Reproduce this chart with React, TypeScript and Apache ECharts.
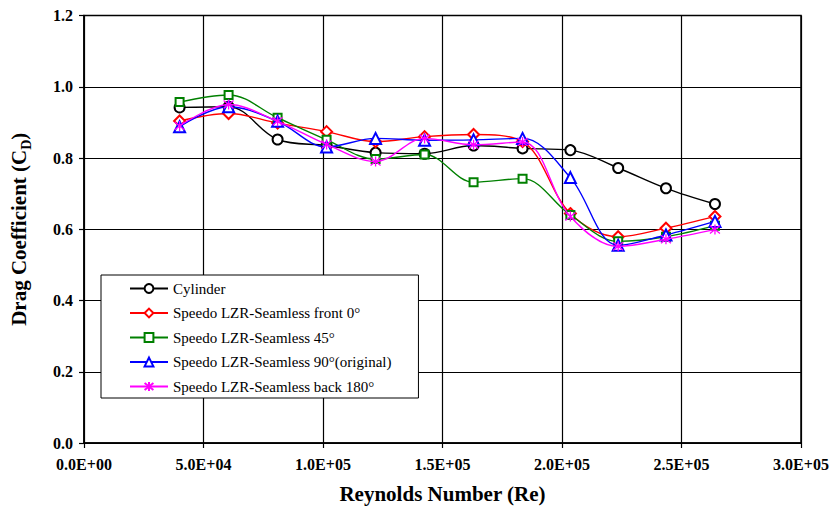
import React, { useEffect, useRef } from 'react';
import * as echarts from 'echarts';

const reynolds = [40000, 60500, 81000, 101500, 122000, 142500, 163000, 183500, 203500, 223500, 243500, 264000];
const cylinder = [0.942, 0.944, 0.852, 0.835, 0.815, 0.812, 0.835, 0.827, 0.822, 0.772, 0.715, 0.671];
const front0 = [0.904, 0.925, 0.898, 0.874, 0.846, 0.86, 0.866, 0.846, 0.644, 0.579, 0.603, 0.636];
const deg45 = [0.957, 0.977, 0.913, 0.851, 0.797, 0.81, 0.732, 0.742, 0.64, 0.566, 0.579, 0.61];
const deg90 = [0.888, 0.944, 0.903, 0.831, 0.855, 0.85, 0.851, 0.855, 0.745, 0.555, 0.584, 0.622];
const back180 = [0.89, 0.95, 0.903, 0.838, 0.79, 0.855, 0.837, 0.845, 0.636, 0.552, 0.572, 0.599];

const seriesNames = [
  'Cylinder',
  'Speedo LZR-Seamless front 0°',
  'Speedo LZR-Seamless 45°',
  'Speedo LZR-Seamless 90°(original)',
  'Speedo LZR-Seamless back 180°',
];
const seriesColors = ['#000000', '#ff0000', '#008000', '#0000ff', '#ff00ff'];
const seriesSymbols = [
  'emptyCircle',
  'emptyDiamond',
  'emptyRect',
  'emptyTriangle',
  'path://M5 0L5 10M1 1L9 9M9 1L1 9',
];
const symbolSizes = [10, 11, 8, 11, 10];
const seriesValues = [cylinder, front0, deg45, deg90, back180];

const FONT = 'Liberation Serif';

function fmtSci(v: number): string {
  if (v === 0) return '0.0E+00';
  const e = Math.floor(Math.log10(Math.abs(v)) + 1e-9);
  const m = v / Math.pow(10, e);
  return m.toFixed(1) + 'E+' + String(e).padStart(2, '0');
}

export default function App() {
  const ref = useRef<HTMLDivElement>(null);
  useEffect(() => {
    if (!ref.current) return;
    const chart = echarts.init(ref.current, undefined, { renderer: 'svg' });
    chart.setOption({
      animation: false,
      backgroundColor: '#ffffff',
      textStyle: { fontFamily: FONT, color: '#000' },
      grid: {
        left: 83,
        top: 15.5,
        right: 31,
        bottom: 67,
        show: true,
        borderColor: '#000',
        borderWidth: 1.5,
        backgroundColor: '#fff',
      },
      legend: {
        orient: 'vertical',
        left: 101,
        top: 275,
        data: seriesNames,
        itemWidth: 38,
        itemHeight: 11,
        itemGap: 9.5,
        padding: [6, 27, 4, 28],
        backgroundColor: '#fff',
        borderColor: '#000',
        borderWidth: 1,
        textStyle: { fontFamily: FONT, fontSize: 15, color: '#000' },
      },
      xAxis: {
        type: 'value',
        min: 0,
        max: 300000,
        interval: 50000,
        name: 'Reynolds Number (Re)',
        nameLocation: 'middle',
        nameGap: 40,
        nameTextStyle: { fontFamily: FONT, fontSize: 21, fontWeight: 'bold', color: '#000' },
        axisLine: { lineStyle: { color: '#000', width: 1.5 } },
        axisTick: { show: true, inside: false, length: 5, lineStyle: { color: '#000', width: 1.2 } },
        axisLabel: {
          formatter: (v: number) => fmtSci(v),
          fontFamily: FONT,
          fontSize: 16,
          fontWeight: 'bold',
          color: '#000',
          margin: 13,
        },
        splitLine: { show: true, lineStyle: { color: '#000', width: 1.2 } },
      },
      yAxis: {
        type: 'value',
        min: 0,
        max: 1.2,
        interval: 0.2,
        name: '{a|Drag Coefficient (C}{s|D}{a|)}',
        nameLocation: 'middle',
        nameGap: 55,
        nameTextStyle: {
          color: '#000',
          fontFamily: FONT,
          rich: {
            a: { fontFamily: FONT, fontSize: 21, fontWeight: 'bold', color: '#000', lineHeight: 24, verticalAlign: 'bottom' },
            s: { fontFamily: FONT, fontSize: 14, fontWeight: 'bold', color: '#000', lineHeight: 16, verticalAlign: 'bottom', padding: [0, 0, -4, 0] },
          },
        },
        axisLine: { show: true, lineStyle: { color: '#000', width: 1.5 } },
        axisTick: { show: true, inside: false, length: 5, lineStyle: { color: '#000', width: 1.2 } },
        axisLabel: {
          formatter: (v: number) => v.toFixed(1),
          fontFamily: FONT,
          fontSize: 16,
          fontWeight: 'bold',
          color: '#000',
          margin: 11,
        },
        splitLine: { show: true, lineStyle: { color: '#000', width: 1.2 } },
      },
      series: seriesNames.map((name, i) => ({
        name,
        type: 'line',
        smooth: 0.35,
        symbol: seriesSymbols[i],
        symbolSize: symbolSizes[i],
        showAllSymbol: true,
        data: reynolds.map((x, j) => [x, seriesValues[i][j]]),
        color: seriesColors[i],
        lineStyle: { color: seriesColors[i], width: 1.4, type: 'solid' },
        itemStyle: {
          color: seriesColors[i],
          borderColor: seriesColors[i],
          borderWidth: 1.3,
        },
        emphasis: { disabled: true },
        z: 2 + i,
      })),
    });
    return () => chart.dispose();
  }, []);
  return <div ref={ref} style={{ position: 'absolute', left: 0, top: 0, width: 832, height: 510 }} />;
}
